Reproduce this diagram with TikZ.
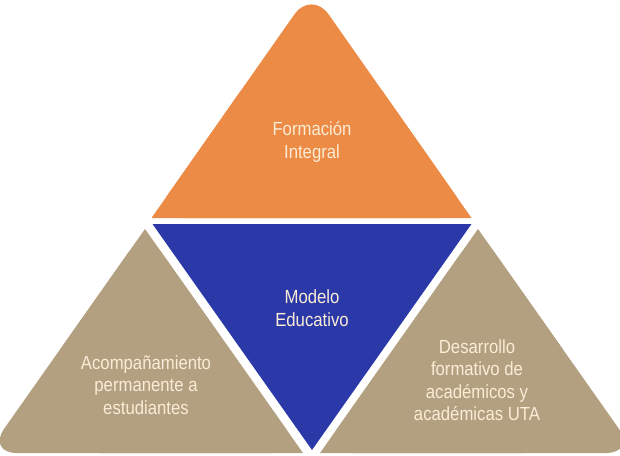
\documentclass[tikz,border=0pt]{standalone}
\usepackage{fontspec}
\setmainfont{Liberation Sans}[FakeStretch=0.88]
\usepackage{tikz}
\definecolor{naranja}{RGB}{236,139,69}
\definecolor{azul}{RGB}{43,57,168}
\definecolor{arena}{RGB}{178,160,128}
\definecolor{crema}{RGB}{250,236,214}

\begin{document}
\begin{tikzpicture}[x=1pt,y=-1pt,
		etiqueta/.style={text=crema,align=center,font=\fontsize{19}{22.5}\selectfont}]
				\useasboundingbox (0,0) rectangle (620,455);
				\fill [naranja,rounded corners=30] (151.5,218) -- (311.5,-10) -- (471.5,218) -- cycle;
				\fill [naranja] (151.5,218) -- (241.3,90) -- (381.7,90) -- (471.5,218) -- cycle;
				\fill [azul] (152.5,224) -- (471.5,224) -- (312,450) -- cycle;
				\foreach \lado in {1,-1} {
					\fill [arena,rounded corners=30] ({311.5-\lado*166.5},229) -- ({311.5-\lado*324.5},453) -- ({311.5-\lado*8.5},453) -- cycle;
					\fill [arena] ({311.5-\lado*166.5},229) -- ({311.5-\lado*8.5},453) -- ({311.5-\lado*211.5},453) -- ({311.5-\lado*251.8},350) -- cycle;
				}
				\node [etiqueta] (formacion) at (312,142) {Formación\\Integral};
				\node [etiqueta] (modelo) at (312,308) {Modelo\\Educativo};
				\node [etiqueta] (acompanamiento) at (146,385) {Acompañamiento\\permanente a\\estudiantes};
				\node [etiqueta] (desarrollo) at (477,380) {Desarrollo\\formativo de\\académicos y\\académicas UTA};
			\end{tikzpicture}
\end{document}
